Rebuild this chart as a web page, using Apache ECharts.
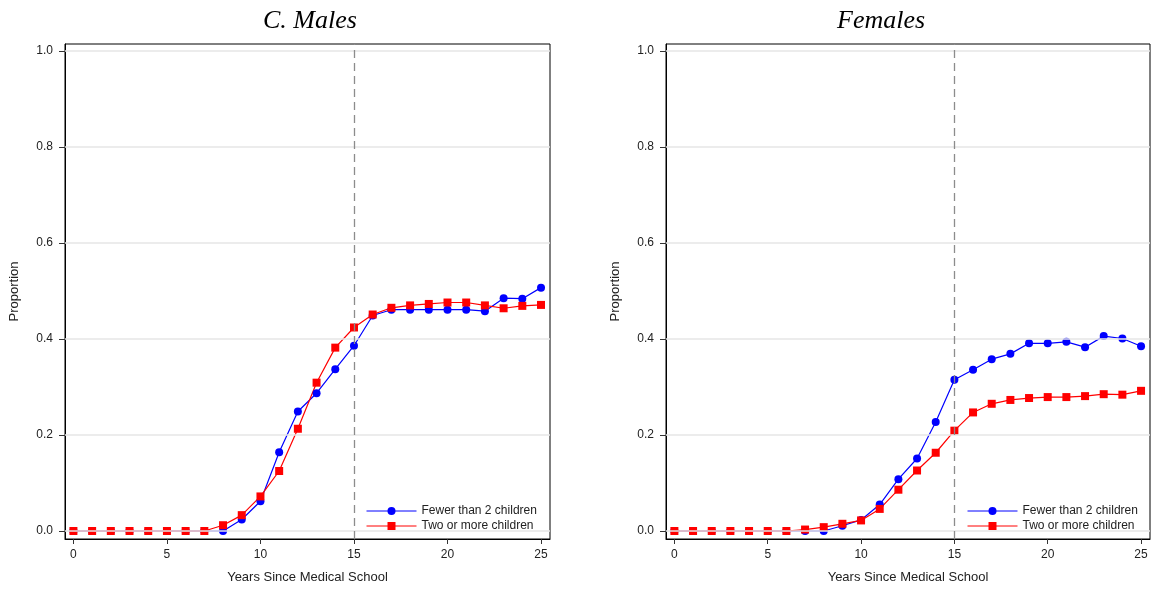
<!DOCTYPE html>
<html>
<head>
<meta charset="utf-8">
<script src="https://cdn.jsdelivr.net/npm/echarts@6/dist/echarts.min.js"></script>
<style>html,body{margin:0;padding:0;background:#fff}#c{width:1151px;height:590px}</style>
</head>
<body>
<div id="c"></div>
<script>
const years = [0,1,2,3,4,5,6,7,8,9,10,11,12,13,14,15,16,17,18,19,20,21,22,23,24,25];
const malesFewer = [0,0,0,0,0,0,0,0,0,0.024,0.062,0.164,0.249,0.287,0.337,0.386,0.449,0.461,0.461,0.461,0.461,0.461,0.458,0.485,0.484,0.507];
const malesTwo   = [0,0,0,0,0,0,0,0,0.012,0.033,0.072,0.125,0.213,0.309,0.382,0.424,0.451,0.465,0.470,0.473,0.476,0.476,0.470,0.464,0.469,0.471];
const femFewer   = [0,0,0,0,0,0,0,0,0,0.011,0.023,0.055,0.108,0.151,0.227,0.315,0.336,0.358,0.369,0.391,0.391,0.394,0.383,0.406,0.401,0.385];
const femTwo     = [0,0,0,0,0,0,0,0.003,0.008,0.015,0.022,0.046,0.086,0.126,0.163,0.209,0.247,0.265,0.273,0.277,0.279,0.279,0.281,0.285,0.284,0.292];
const xTicks = [0,5,10,15,20,25];
const yTicks = [0,0.2,0.4,0.6,0.8,1.0];
const cutoffYear = 15;
const panelTitles = ['C. Males','Females'];
const seriesNames = ['Fewer than 2 children','Two or more children'];
const seriesColors = ['#0000ff','#ff0000'];

const FONT = '"Liberation Sans", Arial, sans-serif';
const chart = echarts.init(document.getElementById('c'));

function pair(xs, ys){ return xs.map((x,i)=>[x, ys[i]]); }

function xAxisFor(gi){
  return {
    type:'value', gridIndex:gi, min:-0.45, max:25.48,
    axisLine:{show:true, onZero:false, lineStyle:{color:'#000', width:1}},
    axisTick:{show:true, length:5, customValues:xTicks, lineStyle:{color:'#333'}},
    axisLabel:{customValues:xTicks, margin:10, fontFamily:FONT, fontSize:12, color:'#222'},
    splitLine:{show:false},
    name:'Years Since Medical School', nameLocation:'middle', nameGap:32,
    nameTextStyle:{fontFamily:FONT, fontSize:13, color:'#222'}
  };
}
function yAxisFor(gi){
  return {
    type:'value', gridIndex:gi, min:-0.0167, max:1.0146,
    axisLine:{show:true, onZero:false, lineStyle:{color:'#000', width:1}},
    axisTick:{show:true, length:6, customValues:yTicks, lineStyle:{color:'#333'}},
    axisLabel:{customValues:yTicks, margin:12, fontFamily:FONT, fontSize:12, color:'#222',
      formatter:v=>v.toFixed(1)},
    splitLine:{show:false},
    name:'Proportion', nameLocation:'middle', nameGap:44, nameRotate:90,
    nameTextStyle:{fontFamily:FONT, fontSize:13, color:'#222'}
  };
}
function refSeries(gi){
  return {
    type:'line', xAxisIndex:gi, yAxisIndex:gi, data:[], silent:true, z:1,
    markLine:{
      silent:true, symbol:'none', label:{show:false}, animation:false,
      data:[
        ...yTicks.map(v=>({yAxis:v, lineStyle:{color:'#e6e6e6', width:1.5, type:'solid'}})),
        {xAxis:cutoffYear, lineStyle:{color:'#8c8c8c', width:1.3, type:[8,5]}}
      ]
    }
  };
}
function dataSeries(gi, name, ys, color, symbol){
  return {
    name, type:'line', xAxisIndex:gi, yAxisIndex:gi, data:pair(years, ys), z:3,
    symbol, symbolSize:8,
    lineStyle:{color, width:1.2}, itemStyle:{color}, animation:false
  };
}
function legendAt(left){
  return {orient:'vertical', left, top:503, padding:[2,5,2,4], itemGap:3, itemWidth:50, itemHeight:10,
     backgroundColor:'#fff', textStyle:{fontFamily:FONT, fontSize:12, color:'#222'},
     data:seriesNames.map((n,i)=>({name:n, lineStyle:{color:seriesColors[i], width:1}})), selectedMode:false};
}
const titleStyle = {fontFamily:'"Liberation Serif", "Times New Roman", serif', fontStyle:'italic', fontWeight:'normal', fontSize:26, color:'#000'};

chart.setOption({
  backgroundColor:'#fff',
  animation:false,
  title:[
    {text:panelTitles[0], left:258, top:3, textStyle:titleStyle},
    {text:panelTitles[1], left:832, top:3, textStyle:titleStyle}
  ],
  grid:[
    {left:65, right:601, top:44, bottom:51, show:true, borderColor:'#000', borderWidth:1, backgroundColor:'transparent'},
    {left:666, right:1, top:44, bottom:51, show:true, borderColor:'#000', borderWidth:1, backgroundColor:'transparent'}
  ],
  xAxis:[xAxisFor(0), xAxisFor(1)],
  yAxis:[yAxisFor(0), yAxisFor(1)],
  legend:[legendAt(362), legendAt(963)],
  series:[
    refSeries(0), refSeries(1),
    dataSeries(0, seriesNames[0], malesFewer, seriesColors[0], 'circle'),
    dataSeries(0, seriesNames[1], malesTwo, seriesColors[1], 'rect'),
    dataSeries(1, seriesNames[0], femFewer, seriesColors[0], 'circle'),
    dataSeries(1, seriesNames[1], femTwo, seriesColors[1], 'rect')
  ]
});
</script>
</body>
</html>
